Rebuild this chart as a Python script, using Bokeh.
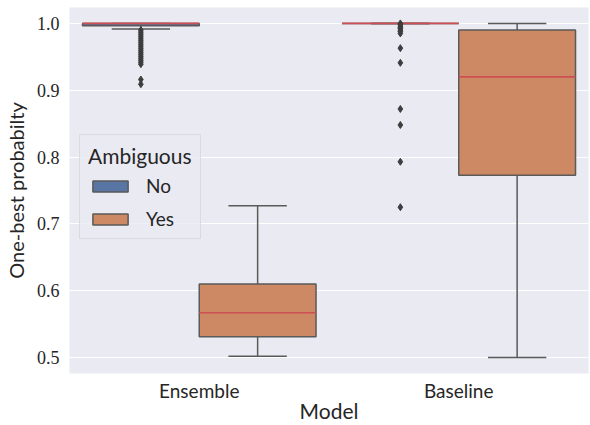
from bokeh.plotting import figure
from bokeh.models import ColumnDataSource, FactorRange, Range1d, FixedTicker, Legend, LegendItem
from bokeh.transform import dodge
from bokeh.embed import file_html
from bokeh.resources import INLINE

models = ["Ensemble", "Baseline"]
hues = ["No", "Yes"]

# box statistics, in model order
no_q1 = [0.9965, 1.000]
no_q3 = [1.000, 1.000]
no_med = [1.000, 1.000]
no_lo = [0.9915, 1.000]
no_hi = [1.000, 1.000]

yes_q1 = [0.531, 0.773]
yes_q3 = [0.610, 0.990]
yes_med = [0.567, 0.920]
yes_lo = [0.502, 0.500]
yes_hi = [0.727, 1.000]

# outliers (Ambiguous = No)
ens_no_outliers = [0.990, 0.987, 0.984, 0.981, 0.978, 0.975, 0.972, 0.969, 0.966,
                   0.963, 0.960, 0.957, 0.954, 0.951, 0.948, 0.945, 0.942, 0.939,
                   0.916, 0.909]
base_no_outliers = [1.000, 0.998, 0.996, 0.994, 0.992, 0.990, 0.988, 0.985,
                    0.963, 0.941, 0.872, 0.848, 0.793, 0.725]

colors = {"No": "#5975A4", "Yes": "#CC8963"}
offsets = {"No": -0.225, "Yes": 0.225}
BOXW = 0.45
CAPW = BOXW / 2
EDGE = "#5a5a5a"
MED = "#cc4f55"

p = figure(width=590, height=425, x_range=FactorRange(factors=models, range_padding=0),
           y_range=Range1d(0.4762, 1.0238), output_backend="svg", toolbar_location=None,
           min_border_left=69, min_border_right=2, min_border_top=7, min_border_bottom=50)
p.background_fill_color = "#EAEAF2"
p.border_fill_color = "white"
p.outline_line_color = None

stats = {
    "No": dict(q1=no_q1, q3=no_q3, med=no_med, lo=no_lo, hi=no_hi),
    "Yes": dict(q1=yes_q1, q3=yes_q3, med=yes_med, lo=yes_lo, hi=yes_hi),
}

box_renderers = {}
for h in hues:
    d = dict(model=models, **stats[h])
    src = ColumnDataSource(d)
    off = offsets[h]
    xc = dodge("model", off, range=p.x_range)
    # whiskers
    p.segment(x0=xc, x1=xc, y0="q3", y1="hi", source=src, line_color=EDGE, line_width=1.5)
    p.segment(x0=xc, x1=xc, y0="q1", y1="lo", source=src, line_color=EDGE, line_width=1.5)
    # caps
    p.segment(x0=dodge("model", off - CAPW / 2, range=p.x_range),
              x1=dodge("model", off + CAPW / 2, range=p.x_range),
              y0="hi", y1="hi", source=src, line_color=EDGE, line_width=1.5)
    p.segment(x0=dodge("model", off - CAPW / 2, range=p.x_range),
              x1=dodge("model", off + CAPW / 2, range=p.x_range),
              y0="lo", y1="lo", source=src, line_color=EDGE, line_width=1.5)
    # box
    r = p.vbar(x=xc, width=BOXW, top="q3", bottom="q1", source=src,
               fill_color=colors[h], line_color=EDGE, line_width=1.5)
    box_renderers[h] = r
    # median
    p.segment(x0=dodge("model", off - BOXW / 2, range=p.x_range),
              x1=dodge("model", off + BOXW / 2, range=p.x_range),
              y0="med", y1="med", source=src, line_color=MED, line_width=1.6)

out_src_e = ColumnDataSource(dict(model=["Ensemble"] * len(ens_no_outliers), v=ens_no_outliers))
out_src_b = ColumnDataSource(dict(model=["Baseline"] * len(base_no_outliers), v=base_no_outliers))
for s in (out_src_e, out_src_b):
    p.scatter(x=dodge("model", offsets["No"], range=p.x_range), y="v", source=s,
              marker="diamond", size=7, fill_color="#3d3d3d", line_color="#3d3d3d")

legend = Legend(title="Ambiguous",
                items=[LegendItem(label=h, renderers=[box_renderers[h]]) for h in hues],
                location=(10, 134))
legend.title_text_font = "Lato"
legend.title_text_font_size = "21px"
legend.title_text_font_style = "normal"
legend.title_text_color = "#262626"
legend.title_standoff = 6
legend.label_text_font = "Lato"
legend.label_text_font_size = "19px"
legend.label_text_color = "#262626"
legend.glyph_width = 44
legend.glyph_height = 14
legend.label_standoff = 14
legend.spacing = 10
legend.padding = 8
legend.margin = 0
legend.background_fill_color = "#EAEAF2"
legend.background_fill_alpha = 0.8
legend.border_line_color = "#cccccc"
legend.border_line_width = 1
p.add_layout(legend)

p.xgrid.visible = False
p.ygrid.grid_line_color = "white"
p.ygrid.grid_line_width = 1.2

p.yaxis.ticker = FixedTicker(ticks=[0.5, 0.6, 0.7, 0.8, 0.9, 1.0])
p.yaxis.major_label_overrides = {0.5: "0.5", 0.6: "0.6", 0.7: "0.7", 0.8: "0.8", 0.9: "0.9", 1.0: "1.0"}

for ax in (p.xaxis[0], p.yaxis[0]):
    ax.axis_line_color = None
    ax.major_tick_line_color = None
    ax.minor_tick_line_color = None
    ax.major_tick_out = 0
    ax.major_tick_in = 0
    ax.minor_tick_out = 0
    ax.minor_tick_in = 0
    ax.major_label_text_color = "#262626"
    ax.axis_label_text_color = "#262626"
    ax.axis_label_text_font = "Lato"
    ax.axis_label_text_font_style = "normal"

p.xaxis.axis_label = "Model"
p.yaxis.axis_label = "One-best probabilty"
p.xaxis[0].axis_label_text_font_size = "21px"
p.yaxis[0].axis_label_text_font_size = "20px"
p.xaxis[0].major_label_text_font = "Lato"
p.xaxis[0].major_label_text_font_size = "19px"
p.xaxis[0].major_label_standoff = 5
p.xaxis[0].axis_label_standoff = -7
p.yaxis[0].major_label_text_font = "serif"
p.yaxis[0].major_label_text_font_size = "18px"
p.yaxis[0].major_label_standoff = 10
p.yaxis[0].axis_label_standoff = 6

open("out.html", "w").write(file_html(p, INLINE))
